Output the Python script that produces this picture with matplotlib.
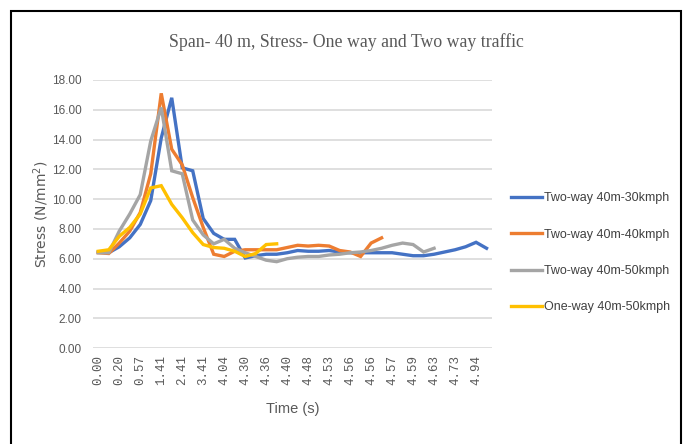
import matplotlib
matplotlib.use("Agg")
import matplotlib.pyplot as plt
from matplotlib.patches import Rectangle

# category labels shown on the x axis (every second category of 38)
time_labels = ["0.00", "0.20", "0.57", "1.41", "2.41", "3.41", "4.04", "4.30", "4.36", "4.40",
               "4.48", "4.53", "4.56", "4.56", "4.57", "4.59", "4.63", "4.73", "4.94"]
n_cat = 38

two_way_30 = [6.45, 6.4, 6.8, 7.4, 8.3, 9.9, 14.1, 16.8, 12.1, 11.9,
              8.7, 7.7, 7.3, 7.3, 6.05, 6.2, 6.3, 6.3, 6.4, 6.55,
              6.5, 6.5, 6.55, 6.45, 6.4, 6.4, 6.4, 6.4, 6.4, 6.3,
              6.2, 6.2, 6.3, 6.45, 6.6, 6.8, 7.1, 6.7]
two_way_40 = [6.4, 6.35, 7.05, 7.85, 9.1, 11.7, 17.1, 13.35, 12.3, 10.1,
              8.1, 6.3, 6.15, 6.5, 6.6, 6.6, 6.6, 6.6, 6.75, 6.9,
              6.85, 6.9, 6.85, 6.55, 6.45, 6.15, 7.05, 7.4]
two_way_50 = [6.4, 6.4, 7.85, 9.0, 10.3, 13.9, 16.15, 11.9, 11.7, 8.6,
              7.6, 7.0, 7.3, 6.7, 6.4, 6.15, 5.9, 5.8, 6.0, 6.1,
              6.15, 6.15, 6.25, 6.3, 6.4, 6.45, 6.55, 6.7, 6.9, 7.05,
              6.95, 6.45, 6.7]
one_way_50 = [6.5, 6.6, 7.5, 8.1, 9.0, 10.75, 10.9, 9.65, 8.75, 7.75,
              6.95, 6.75, 6.7, 6.5, 6.15, 6.35, 6.95, 7.0]

series = [
    ("Two-way 40m-30kmph", two_way_30, "#4472C4"),
    ("Two-way 40m-40kmph", two_way_40, "#ED7D31"),
    ("Two-way 40m-50kmph", two_way_50, "#A5A5A5"),
    ("One-way 40m-50kmph", one_way_50, "#FFC000"),
]

fig = plt.figure(figsize=(6.84, 4.44), dpi=100)
ax = fig.add_axes([0.136, 0.216, 0.583, 0.604])

for name, vals, col in series:
    ax.plot(range(len(vals)), vals, color=col, lw=2.4, label=name, solid_joinstyle="miter")

ax.set_xlim(-0.5, n_cat - 0.5)
ax.set_ylim(0, 18)
ax.set_yticks(range(0, 19, 2))
ax.set_yticklabels([f"{v:.2f}" for v in range(0, 19, 2)],
                   fontfamily="Liberation Sans", fontsize=8.5, color="#595959")
ax.set_xticks(range(0, n_cat - 1, 2))
ax.set_xticklabels(time_labels, rotation=90, fontfamily="Liberation Mono", fontsize=9, color="#595959")
ax.tick_params(axis="y", length=0, pad=8)
ax.tick_params(axis="x", length=0, pad=5)
ax.grid(axis="y", color="#D9D9D9", lw=1.2)
ax.set_axisbelow(True)
for s in ax.spines.values():
    s.set_visible(False)

ax.set_ylabel("Stress (N/mm$^2$)", fontfamily="DejaVu Sans", fontsize=10, color="#595959", labelpad=1)
ax.set_xlabel("Time (s)", fontfamily="Liberation Sans", fontsize=10.5, color="#595959", labelpad=12)

fig.text(0.506, 0.905, "Span- 40 m, Stress- One way and Two way traffic", ha="center", va="center",
         fontfamily="Liberation Serif", fontsize=12.8, color="#595959")

leg = ax.legend(loc="center left", bbox_to_anchor=(1.02, 0.355), frameon=False, handlelength=2.5,
                handletextpad=0.1, labelspacing=1.95,
                prop={"family": "Liberation Sans", "size": 9})
for t in leg.get_texts():
    t.set_color("#404040")

fig.patches.append(Rectangle((11 / 684, -0.05), 670 / 684, 1 - 11 / 444 + 0.05, transform=fig.transFigure,
                             fill=False, edgecolor="black", lw=1.5))

fig.savefig("out.png", dpi=100)
